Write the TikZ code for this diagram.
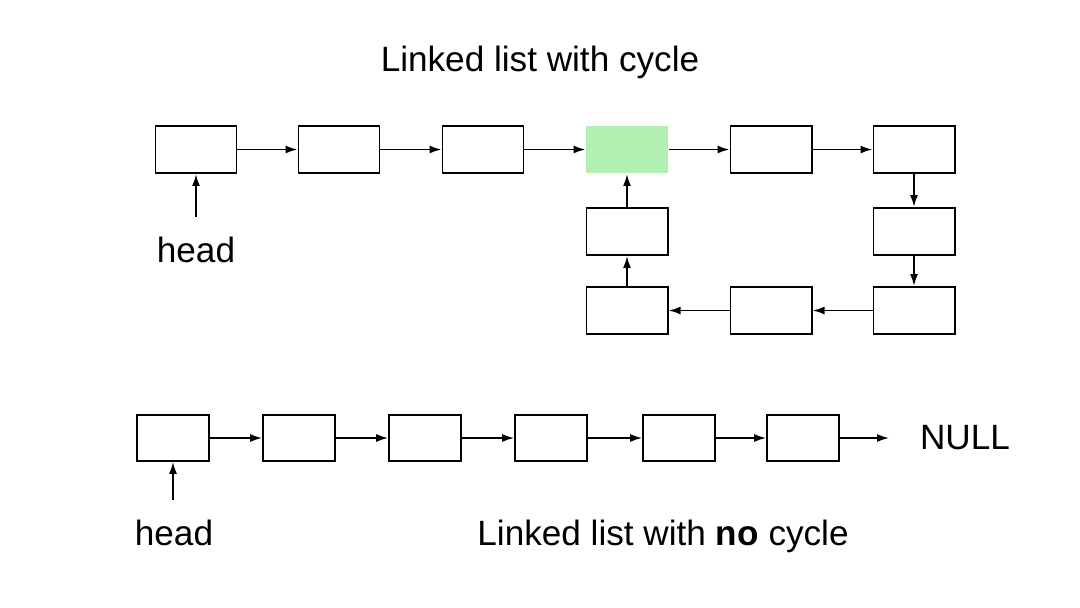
\documentclass[tikz,border=0pt]{standalone}
\usepackage{fontspec}
\setmainfont{Liberation Sans}
\usetikzlibrary{shapes,positioning,arrows,arrows.meta,calc}
\usepackage{xcolor}
\definecolor{cyclegreen}{HTML}{B2F0B2}

\begin{document}
\begin{tikzpicture}[x=0.025cm,y=-0.025cm,
    cell/.style={rectangle,draw,line width=1.4pt,minimum width=2.025cm,minimum height=1.175cm,inner sep=0pt},
    smallcell/.style={rectangle,draw,line width=1.2pt,minimum width=1.8cm,minimum height=1.15cm,inner sep=0pt},
    txt/.style={font=\fontsize{25}{30}\selectfont,inner sep=0pt,anchor=base}]
  \useasboundingbox (0,0) rectangle (1080,607);
              \begin{scope}[>={Latex[length=0.3cm,width=0.2cm]}, line width=1.3pt]
                % list with cycle
                \node (title1) at (540,71) [txt]{Linked list with cycle};
                \node (t1) at (196,149.5) [cell]{};
                \node (t2) at (339,149.5) [cell]{};
                \node (t3) at (483,149.5) [cell]{};
                \node (t4) at (627,149.5) [cell,draw=none,style={fill=cyclegreen}]{};
                \node (t5) at (771,149.5) [cell]{};
                \node (t6) at (914,149.5) [cell]{};
                \node (r1) at (914,231.5) [cell]{};
                \node (r2) at (914,310.5) [cell]{};
                \node (b1) at (771,310.5) [cell]{};
                \node (b2) at (627,310.5) [cell]{};
                \node (l1) at (627,231.5) [cell]{};
                \node (head1) at (196,262) [txt]{head};
                \coordinate (h1) at (196,217);

                \draw[->] (t1) -- (t2);
                \draw[->] (t2) -- (t3);
                \draw[->] (t3) -- (t4);
                \draw[->] (t4) -- (t5);
                \draw[->] (t5) -- (t6);
                \draw[->] (t6) -- (r1);
                \draw[->] (r1) -- (r2);
                \draw[->] (r2) -- (b1);
                \draw[->] (b1) -- (b2);
                \draw[->] (b2) -- (l1);
                \draw[->] (l1) -- (t4);
                \draw[->] (h1) -- (t1);

                % list with no cycle
                \node (n1) at (173,438) [smallcell]{};
                \node (n2) at (299,438) [smallcell]{};
                \node (n3) at (425,438) [smallcell]{};
                \node (n4) at (551,438) [smallcell]{};
                \node (n5) at (679,438) [smallcell]{};
                \node (n6) at (803,438) [smallcell]{};
                \node (null) at (965,449) [txt]{NULL};
                \coordinate (e6) at (889,438);
                \node (head2) at (174,545.5) [txt]{head};
                \coordinate (h2) at (173,500);
                \node (title2) at (663,545.5) [txt]{Linked list with \textbf{no} cycle};

                \draw[->,line width=1.2pt] (n1) -- (n2);
                \draw[->,line width=1.2pt] (n2) -- (n3);
                \draw[->,line width=1.2pt] (n3) -- (n4);
                \draw[->,line width=1.2pt] (n4) -- (n5);
                \draw[->,line width=1.2pt] (n5) -- (n6);
                \draw[->,line width=1.2pt] (n6) -- (e6);
                \draw[->,line width=1.2pt] (h2) -- (n1);

              \end{scope}
\end{tikzpicture}
\end{document}
